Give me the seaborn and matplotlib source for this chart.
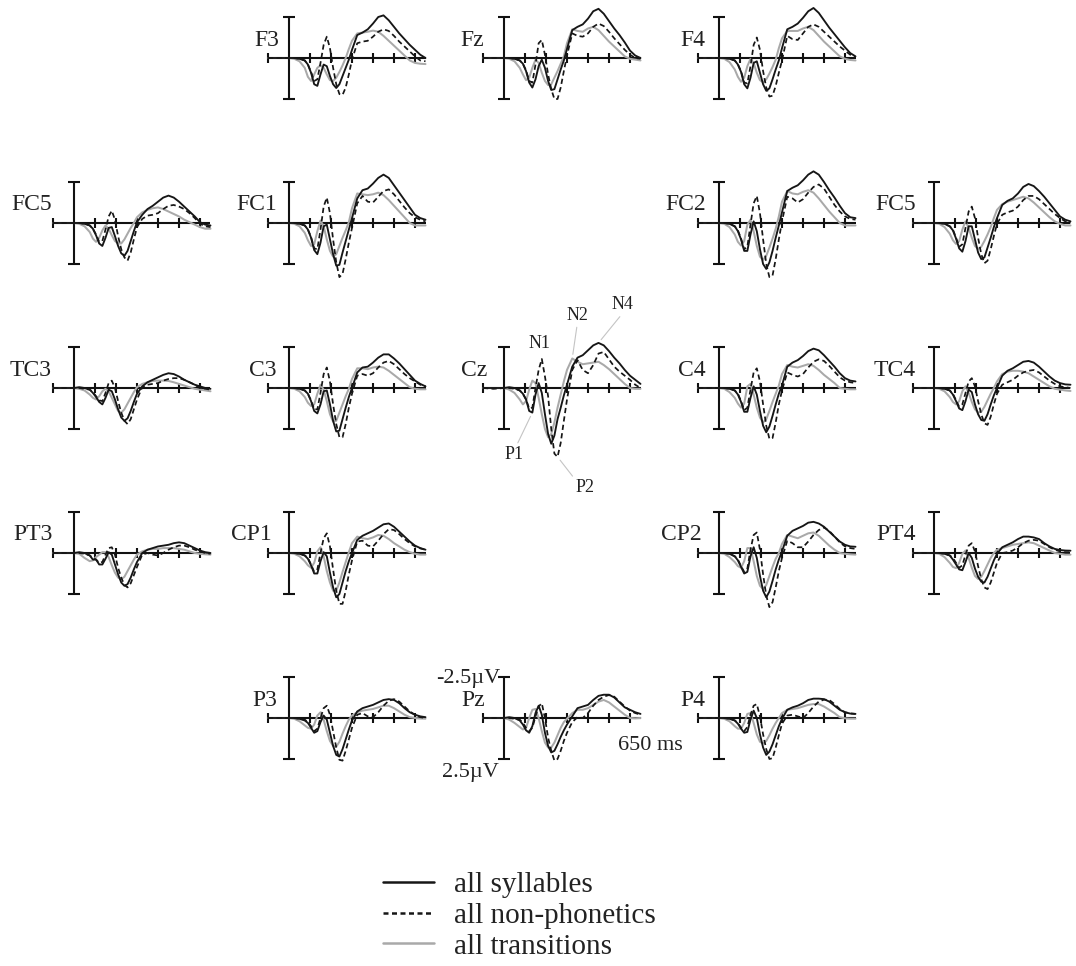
import matplotlib
matplotlib.use("Agg")
import matplotlib.pyplot as plt
import seaborn as sns

# Sample times (ms) shared by every waveform
T = [-100, -50, 0, 25, 50, 75, 90, 105, 120, 135, 150, 165, 180, 195, 210, 225,
     240, 255, 270, 285, 300, 325, 350, 375, 400, 425, 450, 475, 500, 525, 550,
     575, 600, 625, 650]

# Grand-average amplitudes (µV, negative plotted upward)
F3_syl = [0, 0, 0, 0, 0.05, 0.15, 0.4, 0.9, 1.6, 1.7, 1.0, 0.4, 0.5, 1.1, 1.6, 1.83, 1.6, 1.1, 0.6, 0.1, -0.5, -1.4, -1.55, -1.75, -2.1, -2.5, -2.6, -2.3, -1.9, -1.5, -1.15, -0.8, -0.5, -0.2, 0.0]
F3_non = [0, 0, 0, 0, 0.05, 0.15, 0.4, 0.85, 1.4, 1.3, 0.3, -0.8, -1.3, -0.6, 0.6, 1.6, 2.2, 2.25, 1.8, 1.0, 0.1, -0.9, -1.0, -1.05, -1.3, -1.6, -1.75, -1.65, -1.35, -1.0, -0.7, -0.4, -0.1, 0.15, 0.2]
F3_tr = [0, 0, 0, 0.05, 0.2, 0.6, 1.15, 1.4, 1.0, 0.6, 0.45, 0.6, 1.0, 1.35, 1.4, 1.2, 0.85, 0.45, 0.0, -0.55, -1.05, -1.5, -1.55, -1.6, -1.67, -1.6, -1.35, -1.05, -0.75, -0.45, -0.15, 0.15, 0.3, 0.35, 0.37]

Fz_syl = [0, 0, 0, 0, 0.05, 0.15, 0.35, 0.8, 1.5, 1.8, 1.3, 0.5, 0.1, 0.6, 1.4, 1.95, 1.9, 1.3, 0.7, 0.15, -0.55, -1.7, -1.9, -2.05, -2.4, -2.85, -3.0, -2.7, -2.25, -1.8, -1.4, -0.95, -0.45, -0.15, 0.0]
Fz_non = [0, 0, 0, 0, 0.05, 0.15, 0.35, 0.75, 1.4, 1.5, 0.4, -0.9, -1.1, -0.2, 1.0, 1.9, 2.5, 2.5, 1.8, 0.8, -0.15, -1.5, -1.35, -1.3, -1.5, -1.9, -2.1, -1.95, -1.6, -1.2, -0.85, -0.5, -0.2, 0.0, 0.05]
Fz_tr = [0, 0, 0, 0.05, 0.2, 0.6, 1.0, 1.35, 1.2, 0.6, 0.1, 0.3, 0.9, 1.4, 1.65, 1.6, 1.2, 0.8, 0.35, -0.1, -0.9, -1.75, -1.65, -1.6, -1.8, -1.9, -1.7, -1.35, -1.0, -0.7, -0.4, -0.1, 0.05, 0.1, 0.15]

F4_syl = [0, 0, 0, 0, 0.05, 0.15, 0.4, 0.85, 1.6, 1.85, 1.2, 0.3, 0.2, 0.9, 1.6, 2.0, 1.85, 1.3, 0.7, 0.15, -0.6, -1.75, -1.9, -2.1, -2.45, -2.85, -3.05, -2.75, -2.3, -1.85, -1.45, -1.05, -0.65, -0.3, -0.1]
F4_non = [0, 0, 0, 0, 0.05, 0.15, 0.4, 0.8, 1.5, 1.55, 0.5, -0.8, -1.25, -0.5, 0.8, 1.8, 2.35, 2.3, 1.7, 0.9, 0.15, -1.35, -1.15, -1.1, -1.5, -1.9, -2.05, -1.9, -1.6, -1.3, -1.0, -0.7, -0.45, -0.2, -0.05]
F4_tr = [0, 0, 0, 0.05, 0.25, 0.7, 1.15, 1.45, 1.2, 0.5, 0.05, 0.3, 0.9, 1.35, 1.48, 1.3, 0.95, 0.55, 0.1, -0.6, -1.2, -1.65, -1.65, -1.65, -1.8, -1.9, -1.7, -1.35, -1.0, -0.7, -0.4, -0.1, 0.05, 0.12, 0.15]

FC5_syl = [0, 0, 0, 0, 0.05, 0.15, 0.35, 0.75, 1.25, 1.4, 0.9, 0.3, 0.25, 0.8, 1.4, 1.85, 2.0, 1.7, 1.1, 0.5, -0.05, -0.5, -0.85, -1.05, -1.3, -1.55, -1.67, -1.55, -1.3, -1.0, -0.7, -0.4, -0.05, 0.1, 0.15]
FC5_non = [0, 0, 0, 0, 0.05, 0.15, 0.35, 0.7, 1.15, 1.1, 0.4, -0.4, -0.75, -0.2, 0.8, 1.6, 2.1, 2.3, 1.8, 1.0, 0.25, -0.25, -0.45, -0.5, -0.6, -0.85, -1.05, -1.1, -1.0, -0.85, -0.6, -0.3, 0.05, 0.2, 0.25]
FC5_tr = [0, 0, 0, 0.05, 0.2, 0.55, 0.95, 1.15, 0.9, 0.45, 0.15, 0.35, 0.75, 1.1, 1.25, 1.25, 1.0, 0.65, 0.3, 0.0, -0.35, -0.65, -0.8, -0.9, -0.95, -0.85, -0.7, -0.55, -0.4, -0.2, -0.05, 0.1, 0.25, 0.35, 0.35]

FC1_syl = [0, 0, 0, 0, 0.05, 0.15, 0.4, 0.9, 1.65, 1.9, 1.2, 0.2, 0.1, 1.0, 1.9, 2.6, 2.55, 1.8, 1.1, 0.4, -0.3, -1.5, -2.0, -2.1, -2.4, -2.75, -2.95, -2.75, -2.3, -1.85, -1.4, -0.95, -0.5, -0.3, -0.2]
FC1_non = [0, 0, 0, 0, 0.05, 0.15, 0.4, 0.85, 1.55, 1.6, 0.4, -1.0, -1.55, -0.6, 1.0, 2.4, 3.3, 3.1, 2.2, 1.2, 0.3, -1.2, -1.65, -1.3, -1.25, -1.6, -1.95, -2.05, -1.75, -1.35, -0.95, -0.6, -0.35, -0.2, -0.1]
FC1_tr = [0, 0, 0, 0.05, 0.2, 0.6, 1.05, 1.4, 1.3, 0.5, -0.15, 0.2, 1.0, 1.7, 2.05, 1.9, 1.4, 0.9, 0.45, -0.05, -0.9, -1.8, -1.75, -1.7, -1.75, -1.85, -1.7, -1.4, -1.05, -0.7, -0.35, 0.0, 0.15, 0.15, 0.15]

FC2_syl = [0, 0, 0, 0, 0.05, 0.2, 0.5, 1.0, 1.7, 1.7, 0.7, -0.1, 0.5, 1.6, 2.5, 2.8, 2.4, 1.7, 0.9, 0.15, -0.65, -1.95, -2.15, -2.3, -2.6, -2.95, -3.15, -2.95, -2.5, -2.0, -1.55, -1.05, -0.6, -0.35, -0.3]
FC2_non = [0, 0, 0, 0, 0.05, 0.2, 0.45, 0.95, 1.6, 1.45, 0.1, -1.2, -1.65, -0.6, 1.0, 2.5, 3.3, 3.2, 2.2, 1.0, -0.1, -1.6, -1.5, -1.25, -1.45, -1.85, -2.2, -2.35, -2.1, -1.6, -1.1, -0.7, -0.4, -0.25, -0.2]
FC2_tr = [0, 0, 0, 0.05, 0.25, 0.7, 1.15, 1.38, 1.1, 0.1, -0.2, 0.5, 1.4, 2.05, 2.25, 2.0, 1.5, 0.95, 0.35, -0.4, -1.3, -1.95, -1.8, -1.75, -1.9, -2.0, -1.85, -1.5, -1.1, -0.7, -0.35, 0.0, 0.15, 0.15, 0.15]

FC5r_syl = [0, 0, 0, 0, 0.05, 0.2, 0.45, 0.95, 1.55, 1.75, 1.1, 0.2, 0.2, 1.0, 1.8, 2.2, 2.1, 1.5, 0.9, 0.25, -0.3, -1.1, -1.35, -1.5, -1.8, -2.2, -2.38, -2.25, -1.95, -1.6, -1.2, -0.8, -0.4, -0.2, -0.1]
FC5r_non = [0, 0, 0, 0, 0.05, 0.2, 0.4, 0.9, 1.45, 1.3, 0.3, -0.7, -1.0, -0.3, 0.9, 1.9, 2.45, 2.3, 1.6, 0.8, 0.05, -0.5, -0.65, -0.75, -1.0, -1.4, -1.65, -1.65, -1.45, -1.15, -0.85, -0.55, -0.3, -0.1, 0.0]
FC5r_tr = [0, 0, 0, 0.05, 0.25, 0.65, 1.05, 1.28, 1.1, 0.4, -0.1, 0.3, 0.9, 1.4, 1.58, 1.45, 1.1, 0.7, 0.25, -0.3, -0.8, -1.15, -1.3, -1.4, -1.5, -1.6, -1.5, -1.25, -0.95, -0.65, -0.35, -0.1, 0.05, 0.15, 0.15]

TC3_syl = [0, 0, 0, -0.05, 0.0, 0.1, 0.3, 0.55, 0.85, 1.0, 0.6, 0.1, 0.2, 0.7, 1.3, 1.8, 2.0, 1.85, 1.4, 0.85, 0.35, -0.1, -0.35, -0.5, -0.65, -0.8, -0.9, -0.85, -0.7, -0.5, -0.35, -0.2, -0.1, 0.0, 0.05]
TC3_non = [0, 0, 0, 0, 0.05, 0.1, 0.25, 0.5, 0.75, 0.8, 0.3, -0.3, -0.45, 0.0, 0.8, 1.5, 2.0, 2.2, 1.9, 1.3, 0.7, -0.05, -0.2, -0.25, -0.3, -0.45, -0.55, -0.6, -0.6, -0.5, -0.35, -0.2, 0.0, 0.05, 0.1]
TC3_tr = [0, 0, 0, 0.05, 0.15, 0.4, 0.6, 0.7, 0.5, 0.2, 0.05, 0.2, 0.6, 1.0, 1.4, 1.5, 1.3, 0.95, 0.6, 0.25, -0.05, -0.25, -0.35, -0.43, -0.45, -0.45, -0.43, -0.35, -0.25, -0.15, -0.05, 0.05, 0.1, 0.15, 0.2]

C3_syl = [0, 0, 0, 0, 0.05, 0.15, 0.35, 0.8, 1.4, 1.55, 1.0, 0.2, 0.15, 1.0, 2.0, 2.65, 2.6, 1.9, 1.2, 0.55, 0.0, -0.95, -1.25, -1.3, -1.55, -1.85, -2.05, -2.05, -1.8, -1.5, -1.15, -0.8, -0.45, -0.25, -0.1]
C3_non = [0, 0, 0, 0, 0.05, 0.15, 0.35, 0.75, 1.3, 1.3, 0.3, -0.85, -1.25, -0.4, 1.0, 2.2, 3.0, 3.0, 2.2, 1.2, 0.35, -0.75, -0.85, -0.75, -0.9, -1.25, -1.55, -1.65, -1.45, -1.15, -0.85, -0.6, -0.4, -0.2, -0.1]
C3_tr = [0, 0, 0, 0.05, 0.2, 0.55, 0.9, 1.1, 1.0, 0.35, -0.2, 0.1, 0.8, 1.6, 2.05, 2.0, 1.5, 1.0, 0.5, 0.05, -0.55, -1.2, -1.2, -1.15, -1.25, -1.3, -1.25, -1.05, -0.8, -0.55, -0.3, -0.05, 0.05, 0.08, 0.08]

Cz_syl = [0, 0, 0, -0.05, 0, 0.15, 0.35, 0.7, 1.4, 1.5, 0.4, -0.3, 0.3, 1.6, 2.8, 3.4, 2.9, 1.9, 1.2, 0.45, -0.2, -1.3, -1.85, -2.0, -2.3, -2.6, -2.75, -2.6, -2.25, -1.85, -1.5, -1.1, -0.75, -0.5, -0.25]
Cz_non = [0, 0.05, 0, 0, 0.05, 0.15, 0.35, 0.7, 1.25, 1.2, 0.0, -1.1, -1.77, -0.7, 0.5, 2.5, 4.0, 4.2, 3.35, 2.0, 0.7, -1.1, -1.7, -1.1, -0.9, -1.4, -2.1, -2.2, -1.75, -1.3, -1.0, -0.75, -0.5, -0.2, 0.0]
Cz_tr = [0, 0, 0, 0.1, 0.3, 0.7, 1.0, 0.8, 0.1, -0.45, -0.3, 0.6, 1.6, 2.5, 3.0, 2.8, 2.1, 1.2, 0.4, -0.4, -1.1, -1.8, -1.6, -1.45, -1.5, -1.55, -1.6, -1.4, -1.15, -0.85, -0.55, -0.25, 0.0, 0.05, 0.05]

C4_syl = [0, 0, 0, 0, 0.05, 0.15, 0.4, 0.85, 1.45, 1.45, 0.6, -0.1, 0.4, 1.4, 2.3, 2.7, 2.35, 1.7, 1.0, 0.35, -0.15, -1.3, -1.55, -1.7, -1.95, -2.25, -2.4, -2.3, -2.0, -1.65, -1.3, -0.9, -0.6, -0.45, -0.4]
C4_non = [0, 0, 0, 0, 0.05, 0.15, 0.35, 0.8, 1.35, 1.2, 0.1, -0.95, -1.2, -0.4, 1.0, 2.3, 3.1, 3.05, 2.1, 1.0, 0.15, -0.95, -0.8, -0.7, -0.85, -1.25, -1.6, -1.75, -1.65, -1.35, -1.0, -0.65, -0.45, -0.35, -0.3]
C4_tr = [0, 0, 0, 0.05, 0.25, 0.6, 0.95, 1.2, 0.95, -0.1, -0.25, 0.4, 1.2, 1.8, 2.1, 1.9, 1.4, 0.85, 0.35, -0.15, -0.85, -1.4, -1.3, -1.25, -1.35, -1.45, -1.35, -1.1, -0.8, -0.55, -0.3, 0.0, 0.05, 0.08, 0.08]

TC4_syl = [0, 0, 0, 0, 0.05, 0.15, 0.4, 0.8, 1.25, 1.35, 0.8, 0.1, 0.25, 1.0, 1.6, 1.95, 2.0, 1.6, 1.0, 0.45, 0.0, -0.75, -1.05, -1.2, -1.4, -1.6, -1.65, -1.55, -1.3, -1.0, -0.7, -0.45, -0.3, -0.22, -0.2]
TC4_non = [0, 0, 0, 0, 0.05, 0.15, 0.35, 0.75, 1.15, 1.0, 0.3, -0.4, -0.6, -0.1, 0.8, 1.6, 2.15, 2.25, 1.75, 1.0, 0.35, -0.2, -0.35, -0.5, -0.75, -0.95, -1.05, -1.1, -0.95, -0.7, -0.45, -0.25, -0.1, -0.05, 0.0]
TC4_tr = [0, 0, 0, 0.05, 0.2, 0.55, 0.85, 1.0, 0.8, 0.2, -0.1, 0.3, 0.85, 1.3, 1.5, 1.45, 1.15, 0.75, 0.35, 0.0, -0.4, -0.85, -1.0, -1.05, -1.05, -1.0, -0.9, -0.7, -0.5, -0.3, -0.1, 0.05, 0.1, 0.15, 0.18]

PT3_syl = [0, 0, 0, -0.05, 0.0, 0.15, 0.4, 0.4, 0.7, 0.7, 0.35, -0.05, 0.1, 0.7, 1.3, 1.8, 2.0, 1.9, 1.5, 1.0, 0.55, 0.0, -0.2, -0.3, -0.4, -0.45, -0.5, -0.6, -0.65, -0.6, -0.45, -0.3, -0.15, -0.05, 0.0]
PT3_non = [0, 0, 0, 0, 0.05, 0.15, 0.3, 0.4, 0.6, 0.55, 0.1, -0.3, -0.35, 0.1, 0.9, 1.5, 1.95, 2.1, 1.85, 1.35, 0.85, 0.1, 0.0, 0.1, 0.15, 0.0, -0.2, -0.35, -0.45, -0.45, -0.35, -0.2, -0.1, 0.0, 0.05]
PT3_tr = [0, 0, 0, 0.05, 0.3, 0.5, 0.45, 0.25, 0.1, -0.05, -0.05, 0.25, 0.75, 1.2, 1.5, 1.6, 1.45, 1.1, 0.75, 0.4, 0.1, -0.1, -0.2, -0.25, -0.25, -0.3, -0.3, -0.3, -0.25, -0.2, -0.1, 0.0, 0.05, 0.08, 0.1]

CP1_syl = [0, 0, 0, 0, 0.05, 0.15, 0.35, 0.75, 1.25, 1.25, 0.5, -0.05, 0.2, 1.2, 2.1, 2.7, 2.5, 1.8, 1.1, 0.5, 0.0, -0.8, -1.05, -1.2, -1.35, -1.55, -1.75, -1.8, -1.6, -1.3, -1.0, -0.7, -0.45, -0.3, -0.2]
CP1_non = [0, 0, 0, 0, 0.05, 0.15, 0.3, 0.7, 1.15, 1.0, 0.0, -0.9, -1.2, -0.4, 1.0, 2.3, 3.1, 3.1, 2.3, 1.3, 0.45, -0.7, -0.75, -0.45, -0.4, -0.75, -1.15, -1.45, -1.4, -1.15, -0.85, -0.6, -0.4, -0.28, -0.2]
CP1_tr = [0, 0, 0, 0.05, 0.2, 0.5, 0.75, 0.9, 0.6, -0.1, -0.35, 0.2, 1.1, 1.8, 2.3, 2.3, 1.8, 1.15, 0.55, -0.05, -0.6, -1.0, -0.9, -0.85, -0.95, -1.1, -1.05, -0.85, -0.6, -0.4, -0.2, -0.05, 0.05, 0.1, 0.1]

CP2_syl = [0, 0, 0, 0, 0.05, 0.2, 0.45, 0.85, 1.25, 1.15, 0.2, -0.35, 0.3, 1.4, 2.3, 2.7, 2.35, 1.7, 1.0, 0.4, -0.1, -1.05, -1.35, -1.5, -1.65, -1.85, -1.9, -1.8, -1.6, -1.3, -1.0, -0.7, -0.5, -0.4, -0.38]
CP2_non = [0, 0, 0, 0, 0.05, 0.2, 0.4, 0.8, 1.15, 0.95, -0.2, -1.1, -1.25, -0.2, 1.3, 2.6, 3.3, 3.0, 2.1, 1.1, 0.3, -0.75, -0.6, -0.35, -0.35, -0.7, -1.1, -1.4, -1.55, -1.35, -1.0, -0.65, -0.4, -0.3, -0.25]
CP2_tr = [0, 0, 0, 0.05, 0.25, 0.55, 0.8, 0.9, 0.5, -0.3, -0.3, 0.5, 1.4, 2.0, 2.2, 1.95, 1.4, 0.85, 0.35, 0.0, -0.55, -1.1, -1.0, -0.9, -1.05, -1.2, -1.25, -1.05, -0.75, -0.45, -0.2, 0.0, 0.05, 0.08, 0.1]

PT4_syl = [0, 0, 0, 0, 0.05, 0.15, 0.4, 0.7, 1.0, 1.05, 0.55, 0.0, 0.3, 0.95, 1.45, 1.75, 1.8, 1.45, 0.95, 0.45, 0.05, -0.35, -0.5, -0.65, -0.85, -1.0, -1.0, -0.95, -0.85, -0.6, -0.4, -0.25, -0.18, -0.15, -0.14]
PT4_non = [0, 0, 0, 0, 0.05, 0.15, 0.3, 0.6, 0.9, 0.75, 0.1, -0.45, -0.6, -0.1, 0.8, 1.6, 2.1, 2.2, 1.8, 1.2, 0.6, 0.0, -0.05, -0.15, -0.35, -0.6, -0.75, -0.8, -0.75, -0.55, -0.35, -0.2, -0.1, -0.05, -0.04]
PT4_tr = [0, 0, 0, 0.05, 0.25, 0.6, 0.85, 0.92, 0.6, 0.05, -0.15, 0.3, 0.9, 1.4, 1.58, 1.45, 1.1, 0.7, 0.3, 0.0, -0.2, -0.3, -0.4, -0.5, -0.55, -0.6, -0.65, -0.6, -0.45, -0.3, -0.15, 0.0, 0.05, 0.1, 0.1]

P3_syl = [0, 0, 0, 0, 0.05, 0.15, 0.3, 0.6, 0.9, 0.8, 0.25, -0.15, 0.1, 0.9, 1.7, 2.25, 2.35, 1.9, 1.3, 0.7, 0.15, -0.4, -0.6, -0.7, -0.8, -0.95, -1.1, -1.15, -1.1, -0.9, -0.6, -0.35, -0.2, -0.1, -0.05]
P3_non = [0, 0, 0, 0, 0.05, 0.1, 0.25, 0.5, 0.8, 0.65, 0.0, -0.6, -0.75, -0.2, 0.8, 1.8, 2.55, 2.6, 2.0, 1.3, 0.6, -0.2, -0.3, -0.1, -0.05, -0.35, -0.75, -1.05, -1.15, -1.0, -0.7, -0.4, -0.2, -0.05, 0.0]
P3_tr = [0, 0, 0, 0.05, 0.2, 0.45, 0.6, 0.65, 0.4, -0.15, -0.35, 0.1, 0.8, 1.4, 1.7, 1.75, 1.45, 0.95, 0.5, 0.1, -0.15, -0.35, -0.45, -0.5, -0.55, -0.65, -0.75, -0.75, -0.6, -0.4, -0.2, -0.05, 0.0, 0.03, 0.04]

Pz_syl = [0, 0, 0, -0.05, 0.0, 0.15, 0.4, 0.75, 0.9, 0.5, -0.3, -0.75, -0.2, 0.9, 1.7, 2.1, 2.0, 1.6, 1.15, 0.75, 0.4, -0.1, -0.6, -0.7, -0.8, -1.1, -1.35, -1.42, -1.42, -1.25, -0.95, -0.65, -0.5, -0.35, -0.25]
Pz_non = [0, 0, 0, 0, 0.05, 0.1, 0.3, 0.6, 0.8, 0.6, -0.1, -0.7, -0.9, 0.0, 1.2, 2.0, 2.6, 2.5, 2.0, 1.4, 0.9, 0.25, -0.05, 0.0, -0.3, -0.75, -1.1, -1.3, -1.4, -1.3, -1.0, -0.7, -0.45, -0.3, -0.2]
Pz_tr = [0, 0, 0, 0.1, 0.3, 0.55, 0.7, 0.6, 0.0, -0.5, -0.55, 0.0, 0.8, 1.5, 1.8, 1.8, 1.5, 1.05, 0.6, 0.25, 0.05, -0.3, -0.5, -0.5, -0.6, -0.8, -1.0, -1.1, -0.95, -0.7, -0.45, -0.2, 0.0, 0.02, 0.0]

P4_syl = [0, 0, 0, 0, 0.05, 0.15, 0.35, 0.65, 0.9, 0.85, 0.1, -0.45, 0.0, 1.0, 1.8, 2.25, 2.05, 1.6, 1.05, 0.5, 0.05, -0.5, -0.65, -0.75, -0.9, -1.1, -1.18, -1.18, -1.15, -1.0, -0.75, -0.5, -0.35, -0.27, -0.25]
P4_non = [0, 0, 0, 0, 0.05, 0.15, 0.3, 0.6, 0.8, 0.55, -0.2, -0.75, -0.85, -0.1, 1.0, 1.9, 2.5, 2.45, 1.8, 1.05, 0.35, -0.15, -0.2, -0.1, 0.0, -0.3, -0.7, -1.0, -1.12, -1.1, -0.85, -0.55, -0.35, -0.28, -0.25]
P4_tr = [0, 0, 0, 0.05, 0.2, 0.5, 0.65, 0.65, 0.3, -0.25, -0.3, 0.3, 1.0, 1.45, 1.55, 1.4, 1.05, 0.65, 0.3, 0.0, -0.3, -0.5, -0.55, -0.6, -0.7, -0.8, -0.85, -0.85, -0.7, -0.5, -0.3, -0.05, 0.02, 0.04, 0.04]

CONDITIONS = ["all syllables", "all non-phonetics", "all transitions"]
TICKS_MS = [100, 200, 300, 400, 500, 600]
AXIS_UV = 2.5

# electrode label, waveforms, grid column, grid row, label gap (px)
PANELS = [
    ("F3", F3_syl, F3_non, F3_tr, 1, 0, 10),
    ("Fz", Fz_syl, Fz_non, Fz_tr, 2, 0, 20),
    ("F4", F4_syl, F4_non, F4_tr, 3, 0, 14),
    ("FC5", FC5_syl, FC5_non, FC5_tr, 0, 1, 22),
    ("FC1", FC1_syl, FC1_non, FC1_tr, 1, 1, 12),
    ("FC2", FC2_syl, FC2_non, FC2_tr, 3, 1, 13),
    ("FC5", FC5r_syl, FC5r_non, FC5r_tr, 4, 1, 18),
    ("TC3", TC3_syl, TC3_non, TC3_tr, 0, 2, 22),
    ("C3", C3_syl, C3_non, C3_tr, 1, 2, 12),
    ("Cz", Cz_syl, Cz_non, Cz_tr, 2, 2, 17),
    ("C4", C4_syl, C4_non, C4_tr, 3, 2, 13),
    ("TC4", TC4_syl, TC4_non, TC4_tr, 4, 2, 18),
    ("PT3", PT3_syl, PT3_non, PT3_tr, 0, 3, 21),
    ("CP1", CP1_syl, CP1_non, CP1_tr, 1, 3, 17),
    ("CP2", CP2_syl, CP2_non, CP2_tr, 3, 3, 17),
    ("PT4", PT4_syl, PT4_non, PT4_tr, 4, 3, 18),
    ("P3", P3_syl, P3_non, P3_tr, 1, 4, 12),
    ("Pz", Pz_syl, Pz_non, Pz_tr, 2, 4, 19),
    ("P4", P4_syl, P4_non, P4_tr, 3, 4, 14),
]

for p in PANELS:
    for s in p[1:4]:
        if len(s) != len(T):
            raise ValueError(f"{p[0]}: {len(s)} samples")

sns.set_style("white")
plt.rcParams["font.family"] = ["Liberation Serif", "DejaVu Serif"]

W, H = 1076, 966
fig = plt.figure(figsize=(W / 100, H / 100), dpi=100)

COL_X = [74, 289, 504, 719, 934]      # pixel x of the 0 ms axis per column
ROW_Y = [58, 223, 388, 553, 718]      # pixel y of the baseline per row
PX_MS = 0.21
PX_UV = 16.4
XL, XR = -115, 665
YT, YB = -3.6, 4.8

BLACK = "#161616"
GRAY = "#a9a9a9"
AXC = "#111111"
DASH = (0, (3.0, 1.9))
LW = 1.25
AXLW = 1.5

axes_by_label = {}
for label, syl, non, tr, col, row, gap in PANELS:
    x0, y0 = COL_X[col], ROW_Y[row]
    left = x0 + XL * PX_MS
    top = y0 + YT * PX_UV
    w = (XR - XL) * PX_MS
    h = (YB - YT) * PX_UV
    ax = fig.add_axes([left / W, 1 - (top + h) / H, w / W, h / H])
    ax.patch.set_alpha(0)

    # time axis with 100 ms ticks, amplitude bar with end caps
    ax.hlines(0, -100, 650, color=AXC, lw=AXLW)
    ax.vlines([-100] + TICKS_MS, -0.33, 0.33, color=AXC, lw=AXLW)
    ax.vlines(0, -AXIS_UV, AXIS_UV, color=AXC, lw=AXLW)
    ax.hlines([-AXIS_UV, AXIS_UV], -28, 28, color=AXC, lw=AXLW)

    sns.lineplot(x=T, y=tr, ax=ax, color=GRAY, lw=LW + 0.2, errorbar=None)
    sns.lineplot(x=T, y=non, ax=ax, color=BLACK, lw=LW, linestyle=DASH, errorbar=None)
    sns.lineplot(x=T, y=syl, ax=ax, color=BLACK, lw=LW + 0.1, errorbar=None)

    ax.set_xlim(XL, XR)
    ax.set_ylim(YB, YT)
    ax.axis("off")

    fig.text((x0 - gap) / W, 1 - (y0 - 12.5) / H, label, ha="right",
             va="baseline", fontsize=17, color="#222222")
    axes_by_label.setdefault(label, ax)

# component labels on Cz
cz = axes_by_label["Cz"]


def peak(series, lo, hi, sign):
    pts = [(t, v) for t, v in zip(T, series) if lo <= t <= hi]
    return max(pts, key=lambda p: sign * p[1])


LEADER = dict(arrowstyle="-", color="#c4c4c4", lw=0.8, shrinkA=0, shrinkB=3)
COMPONENTS = [
    ("N1", peak(Cz_non, 150, 210, -1), (-2, 15), None),
    ("N2", peak(Cz_tr, 300, 350, -1), (5, 43), (0.5, 0.0)),
    ("N4", peak(Cz_syl, 400, 500, -1), (24, 38), (0.5, 0.0)),
    ("P1", peak(Cz_syl, 90, 150, 1), (-18, -42), (0.6, 1.0)),
    ("P2", peak(Cz_non, 210, 280, 1), (27, -31), (0.0, 1.0)),
]
for name, xy, off, rel in COMPONENTS:
    props = None if rel is None else dict(LEADER, relpos=rel)
    cz.annotate(name, xy=xy, xytext=off, textcoords="offset pixels",
                ha="center", va="center", fontsize=13, color="#222222",
                arrowprops=props, annotation_clip=False)

# scale labels beside Pz
fig.text(500 / W, 1 - 683 / H, "-2.5\u00b5V", ha="right", va="baseline",
         fontsize=16, color="#222222")
fig.text(499 / W, 1 - 777 / H, "2.5\u00b5V", ha="right", va="baseline",
         fontsize=16, color="#222222")
fig.text(650 / W, 1 - 750 / H, "650 ms", ha="center", va="baseline",
         fontsize=16, color="#222222")

# legend
leg = fig.add_axes([0, 0, 1, 1])
leg.set_xlim(0, W)
leg.set_ylim(H, 0)
leg.axis("off")
leg.patch.set_alpha(0)
LEG_Y = [882, 912.5, 943]
LEG_STYLE = [dict(color=BLACK, linestyle="-"),
             dict(color=BLACK, linestyle=(0, (2.0, 1.4))),
             dict(color=GRAY, linestyle="-")]
for name, y, st in zip(CONDITIONS, LEG_Y, LEG_STYLE):
    leg.plot([383, 434], [y, y], lw=1.8, **st)
    leg.text(454, y + 10.5, name, ha="left", va="baseline", fontsize=21,
             color="#222222")

fig.savefig("out.png", dpi=100)
